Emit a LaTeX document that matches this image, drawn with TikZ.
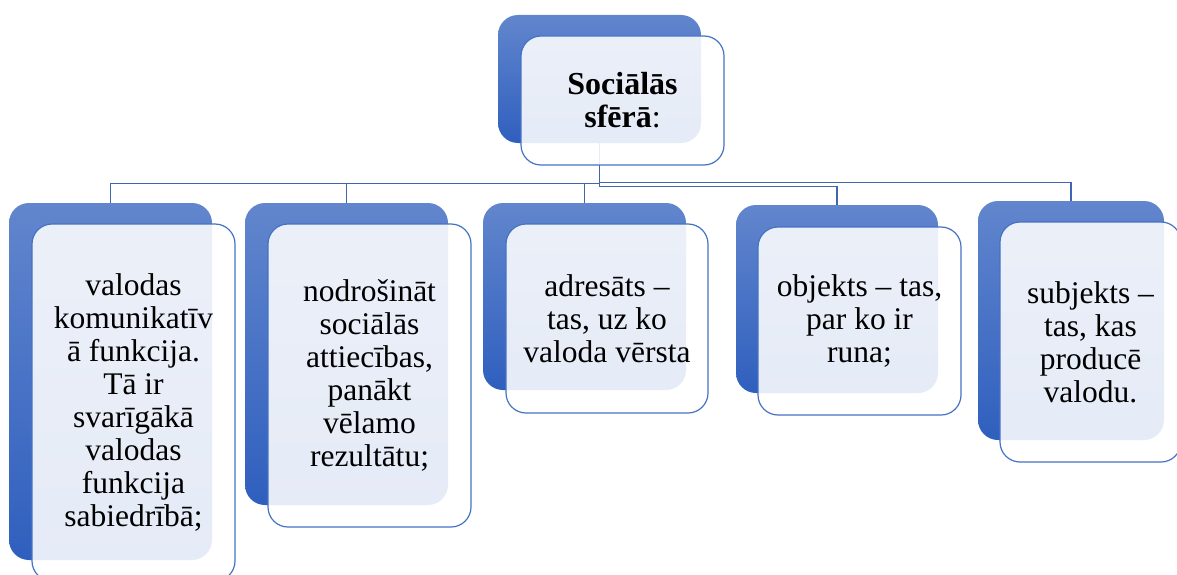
\documentclass[tikz,border=0pt]{standalone}
\usepackage{fontspec}
\setmainfont{Liberation Serif}
\usepackage{tikz}

\definecolor{backtop}{HTML}{6286CD}
\definecolor{backbot}{HTML}{2F5FBE}
\definecolor{boxline}{HTML}{4472C4}
\definecolor{linkline}{HTML}{4166B0}

\tikzset{
    back/.style={shape=rectangle, rounded corners=20pt, top color=backtop, bottom color=backbot, minimum width=203pt, inner sep=0pt},
    front/.style={shape=rectangle, rounded corners=20pt, draw=boxline, line width=1.2pt, fill=white, fill opacity=0.88, text opacity=1, minimum width=203pt, inner sep=0pt, align=center, font=\fontsize{31.5}{33}\selectfont},
    title/.style={front, font=\fontsize{32}{33}\selectfont\bfseries},
    link/.style={draw=linkline, line width=1.3pt}
}

\begin{document}
\begin{tikzpicture}[x=1pt, y=-1pt]
    \clip (0,0) rectangle (1177,575);
    \node[back, minimum height=128pt] at (599.5,79) (B0) {};
    \node[back, minimum height=357pt] at (110.5,381.5) (B1) {};
    \node[back, minimum height=302pt] at (346.5,354) (B2) {};
    \node[back, minimum height=187pt] at (584.5,296.5) (B3) {};
    \node[back, minimum height=188pt, minimum width=202pt] at (837,299) (B4) {};
    \node[back, minimum height=239pt, minimum width=186pt] at (1071,320.5) (B5) {};
    \path [link] (B0.south) -- ++(0,40) -| (B1.north);
    \path [link] (B0.south) -- ++(0,40) -| (B2.north);
    \path [link] (B0.south) -- ++(0,40) -| (B3.north);
    \path [link] (B0.south) -- ++(0,43) -| (B4.north);
    \path [link] (B0.south) -- ++(0,39) -| (B5.north);
    \node[title, minimum height=129pt] at (622.5,100.5) (F0) {Sociālās\\sfērā{\mdseries :}};
    \node[front, minimum height=357pt] at (133.5,402.5) (F1) {valodas\\komunikatīv\\ā funkcija.\\Tā ir\\svarīgākā\\valodas\\funkcija\\sabiedrībā;};
    \node[front, minimum height=303pt] at (369.5,375.5) (F2) {nodrošināt\\sociālās\\attiecības,\\panākt\\vēlamo\\rezultātu;};
    \node[front, minimum height=189pt, minimum width=202pt] at (607,318.5) (F3) {adresāts –\\tas, uz ko\\valoda vērsta};
    \node[front, minimum height=188pt] at (859.5,321) (F4) {objekts – tas,\\par ko ir\\runa;};
    \node[front, minimum height=240pt, minimum width=181pt] at (1090.5,342) (F5) {subjekts –\\tas, kas\\producē\\valodu.};
\end{tikzpicture}
\end{document}
